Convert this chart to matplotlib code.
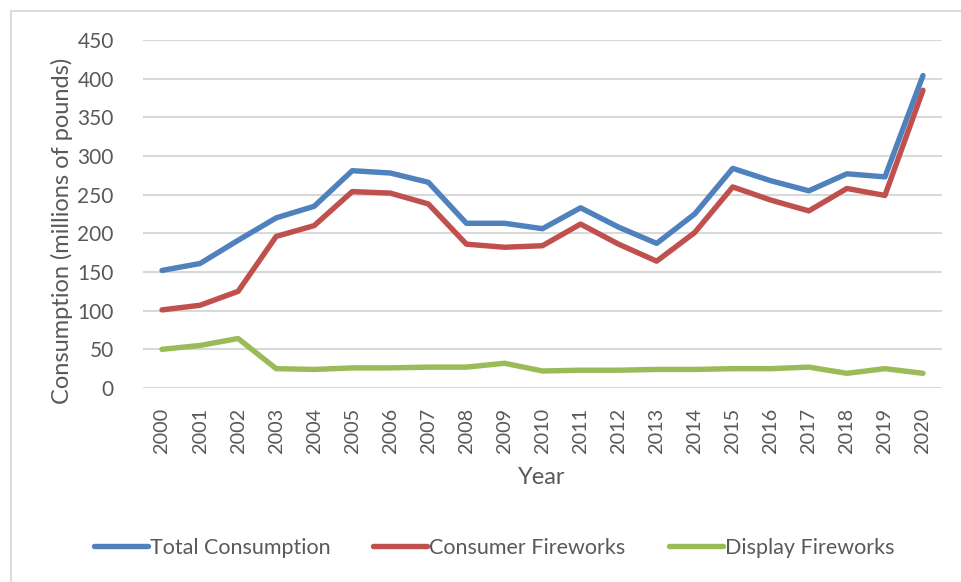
import matplotlib
matplotlib.use("Agg")
import matplotlib.pyplot as plt
from matplotlib.patches import Rectangle

years = [str(y) for y in range(2000, 2021)]
total = [152, 161, 191, 220, 235, 281, 278, 266, 213, 213, 206,
         233, 208, 187, 225, 284, 268, 255, 277, 273, 404]
consumer = [101, 107, 125, 196, 210, 254, 252, 238, 186, 182, 184,
            212, 186, 164, 201, 260, 243, 229, 258, 249, 385]
display = [50, 55, 64, 25, 24, 26, 26, 27, 27, 32, 22,
           23, 23, 24, 24, 25, 25, 27, 19, 25, 19]

series_names = ["Total Consumption", "Consumer Fireworks", "Display Fireworks"]
colors = ["#4F81BD", "#C0504D", "#9BBB59"]
yticks = [0, 50, 100, 150, 200, 250, 300, 350, 400, 450]

plt.rcParams["font.family"] = ["Lato", "DejaVu Sans"]
text_color = "#595959"
W, H = 961, 582

fig = plt.figure(figsize=(W / 100, H / 100), dpi=100)
fig.patches.append(Rectangle((11 / W, -0.1), 1.2, 1 - 11 / H + 0.1,
                             transform=fig.transFigure, fill=False,
                             edgecolor="#D9D9D9", linewidth=1.3))

ax = fig.add_axes([143 / W, 1 - 388 / H, (942 - 143) / W, (388 - 40) / H])

x = list(range(len(years)))
for vals, name, c in zip([total, consumer, display], series_names, colors):
    ax.plot(x, vals, color=c, linewidth=3.9, label=name, solid_capstyle="round",
            solid_joinstyle="round")

ax.set_xlim(-0.5, len(years) - 0.5)
ax.set_ylim(0, 450)
ax.set_yticks(yticks)
ax.set_xticks(x)
ax.set_xticklabels(years, rotation=90)
ax.tick_params(axis="y", length=0, pad=21, labelsize=15, labelcolor=text_color)
ax.tick_params(axis="x", length=0, pad=14, labelsize=14.3, labelcolor=text_color)
ax.grid(axis="y", color="#D9D9D9", linewidth=1.5)
ax.set_axisbelow(True)
for s in ax.spines.values():
    s.set_visible(False)

fig.text(62 / W, 1 - 231 / H, "Consumption (millions of pounds)", rotation=90,
         ha="center", va="center", fontsize=17, color=text_color)
fig.text(542 / W, 1 - 478 / H, "Year", ha="center", va="center",
         fontsize=17, color=text_color)

leg = fig.legend(loc="center", bbox_to_anchor=(494 / W, 1 - 548 / H), ncol=3,
                 frameon=False, fontsize=15.5, handlelength=2.5, handletextpad=0.1,
                 columnspacing=2.0, labelcolor=text_color)

fig.savefig("out.png", dpi=100)
